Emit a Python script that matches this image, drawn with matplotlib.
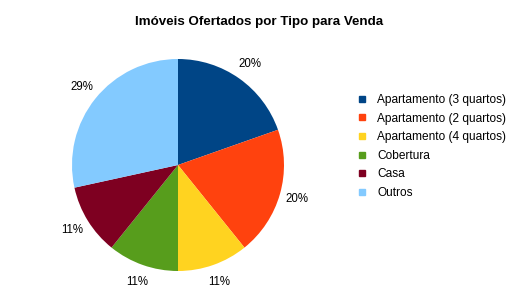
import matplotlib
matplotlib.use("Agg")
from matplotlib import pyplot as plt
from matplotlib.lines import Line2D

plt.rcParams['font.family'] = ['Liberation Sans', 'DejaVu Sans']

# data
tipos = ['Apartamento (3 quartos)', 'Apartamento (2 quartos)',
         'Apartamento (4 quartos)', 'Cobertura', 'Casa', 'Outros']
percentuais = [20, 20, 11, 11, 11, 29]
cores = ['#004586', '#FF420E', '#FFD320', '#579D1C', '#7E0021', '#83CAFF']

W, H = 522, 295
fig = plt.figure(figsize=(W / 100, H / 100), dpi=100)

# pie centre (178,165) px, radius ~106 px
cx, cy, r = 178, 165, 106
ax = fig.add_axes([(cx - r) / W, (H - cy - r) / H, 2 * r / W, 2 * r / H])
wedges, textos = ax.pie(percentuais, colors=cores, startangle=90, counterclock=False,
                        labels=[f'{v}%' for v in percentuais], labeldistance=1.17,
                        textprops={'fontsize': 8.3, 'color': '#000000'},
                        wedgeprops={'linewidth': 0})
for t in textos:
    t.set_ha('center')
    t.set_va('center')
ax.set_aspect('equal')
ax.set_xlim(-1, 1)
ax.set_ylim(-1, 1)

fig.text(259 / W, 1 - 22 / H, 'Imóveis Ofertados por Tipo para Venda',
         ha='center', va='center', fontsize=9.6, fontweight='bold')

handles = [Line2D([], [], linestyle='none', marker='s', markersize=5,
                  markerfacecolor=c, markeredgecolor=c) for c in cores]
fig.legend(handles, tipos, loc='upper left',
           bbox_to_anchor=(357 / W, 1 - 94 / H), frameon=False,
           fontsize=8.6, handlelength=0.8, handletextpad=0.9,
           labelspacing=0.55, borderpad=0, borderaxespad=0)

fig.savefig('out.png', dpi=100)
